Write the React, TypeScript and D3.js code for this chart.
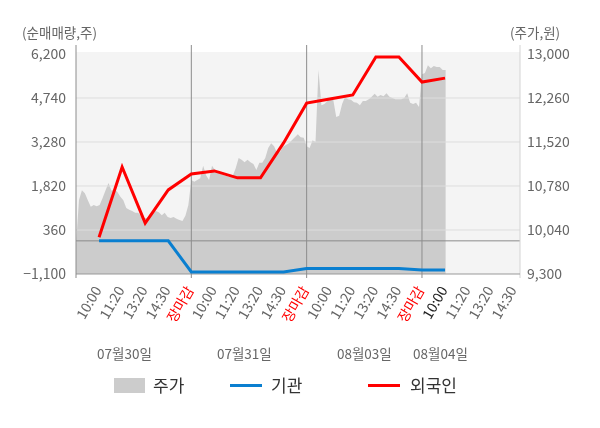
import React from 'react';
import * as d3 from 'd3';

const timeSlots = ['10:00', '11:20', '13:20', '14:30', '장마감'];
const lastDaySlots = ['10:00', '11:20', '13:20', '14:30'];
const days = ['07월30일', '07월31일', '08월03일', '08월04일'];
const leftTicks = [-1100, 360, 1820, 3280, 4740, 6200];
const rightTicks = [9300, 10040, 10780, 11520, 12260, 13000];

// net buying (shares), one value per time slot
const foreign = [120, 2450, 590, 1690, 2220, 2320, 2090, 2090, 3250, 4570, 4710, 4840, 6100, 6100, 5270, 5400];
const institution = [0, 0, 0, 0, -1030, -1030, -1030, -1030, -1030, -920, -920, -920, -920, -920, -970, -970];

// stock price, 10-minute samples from the open of each day
const priceDay1 = [9790, 10540, 10710, 10660, 10540, 10430, 10460, 10440, 10460, 10580, 10710, 10830, 10700, 10730, 10680, 10600, 10540, 10410, 10380, 10360, 10330, 10330, 10280, 10240, 10240, 10290, 10340, 10360, 10340, 10290, 10330, 10260, 10240, 10260, 10230, 10210, 10190, 10280, 10460];
const priceDay2 = [10880, 10850, 10880, 10910, 11120, 10960, 10880, 11120, 11050, 11020, 10980, 10960, 10950, 10930, 10950, 11080, 11250, 11220, 11180, 11220, 11180, 11150, 11050, 11170, 11170, 11250, 11420, 11500, 11450, 11330, 11350, 11440, 11470, 11500, 11550, 11600, 11650, 11600, 11590];
const priceDay3 = [11450, 11420, 11550, 11520, 12730, 12140, 12160, 12210, 12260, 12230, 11940, 11960, 12160, 12280, 12240, 12230, 12190, 12180, 12140, 12210, 12210, 12240, 12280, 12330, 12280, 12310, 12290, 12340, 12280, 12260, 12240, 12240, 12240, 12260, 12340, 12180, 12160, 12180, 12110];
const priceDay4 = [12660, 12680, 12810, 12760, 12800, 12780, 12780, 12730, 12730];

const W = 600, H = 428;
const L = 76, R = 520, T = 54, B = 274;
const SAMPLES_PER_DAY = 39;
const DAY_LABEL_U = [1.1, 6.3, 11.5, 14.8];
const FONT = '"Noto Sans CJK KR", "Noto Sans", sans-serif';

export default function App() {
  const x = d3.scaleLinear().domain([-1, 18.25]).range([L, R]);
  const yL = d3.scaleLinear().domain([-1100, 6200]).range([B, T]);
  const yR = d3.scaleLinear().domain([9300, 13000]).range([B, T]);
  const fmt = d3.format(',');

  const slotLabels = [...timeSlots, ...timeSlots, ...timeSlots, ...lastDaySlots];

  const pricePts: { u: number; p: number }[] = [];
  [priceDay1, priceDay2, priceDay3, priceDay4].forEach((arr, d) => {
    arr.forEach((p, i) => pricePts.push({ u: 5 * d - 1 + (5 * i) / SAMPLES_PER_DAY, p }));
  });
  const area = d3.area<{ u: number; p: number }>().x(d => x(d.u)).y0(B).y1(d => yR(d.p));
  const line = d3.line<number>().x((_, i) => x(i)).y(d => yL(d));

  const dayBounds = [-1, 4, 9, 14, 18.25];

  return (
    <svg width={W} height={H} style={{ position: 'fixed', left: 0, top: 0 }} fontFamily={FONT}>
      <rect x={L} y={52} width={R - L} height={B - 52} fill="#f4f4f4" />
      <path d={area(pricePts) || ''} fill="#cccccc" />
      {leftTicks.slice(1, -1).map(t => (
        <line key={t} x1={L} x2={R} y1={yL(t)} y2={yL(t)} stroke="#dddddd" />
      ))}
      <line x1={L} x2={R} y1={yL(0)} y2={yL(0)} stroke="#8c8c8c" />
      <line x1={R} x2={R} y1={45} y2={B + 4} stroke="#d4d4d4" />
      <line x1={L} x2={R} y1={B} y2={B} stroke="#999999" />
      {dayBounds.slice(0, 4).map(u => (
        <line key={u} x1={x(u)} x2={x(u)} y1={45} y2={B + 4} stroke="#8c8c8c" />
      ))}
      <path d={line(institution) || ''} fill="none" stroke="#0a7fd0" strokeWidth={3} />
      <path d={line(foreign) || ''} fill="none" stroke="#ff0000" strokeWidth={3} />

      {leftTicks.map(t => (
        <text key={t} x={66} y={yL(t)} dy="0.35em" textAnchor="end" fontSize={14} fill="#666">{fmt(t)}</text>
      ))}
      {rightTicks.map(t => (
        <text key={t} x={527} y={yR(t)} dy="0.35em" textAnchor="start" fontSize={14} fill="#666">{fmt(t)}</text>
      ))}
      <text x={22} y={38} fontSize={13.5} fill="#666">(순매매량,주)</text>
      <text x={510} y={38} fontSize={13.5} fill="#666">(주가,원)</text>

      {slotLabels.map((s, i) => (
        <text
          key={i}
          transform={`translate(${x(i) + 3},${290}) rotate(-60)`}
          textAnchor="end"
          fontSize={14}
          fill={s === '장마감' ? '#ff0000' : i === 15 ? '#222' : '#666'}
        >{s}</text>
      ))}
      {days.map((d, i) => (
        <text key={d} x={x(DAY_LABEL_U[i])} y={359} textAnchor="middle" fontSize={13.5} fill="#666">{d}</text>
      ))}

      <rect x={114} y={378} width={31} height={15} fill="#cccccc" />
      <text x={153} y={386} dy="0.35em" fontSize={17} fill="#333">주가</text>
      <line x1={230} x2={262} y1={385.5} y2={385.5} stroke="#0a7fd0" strokeWidth={3} />
      <text x={271} y={386} dy="0.35em" fontSize={17} fill="#333">기관</text>
      <line x1={368} x2={400} y1={385.5} y2={385.5} stroke="#ff0000" strokeWidth={3} />
      <text x={410} y={386} dy="0.35em" fontSize={17} fill="#333">외국인</text>
    </svg>
  );
}
